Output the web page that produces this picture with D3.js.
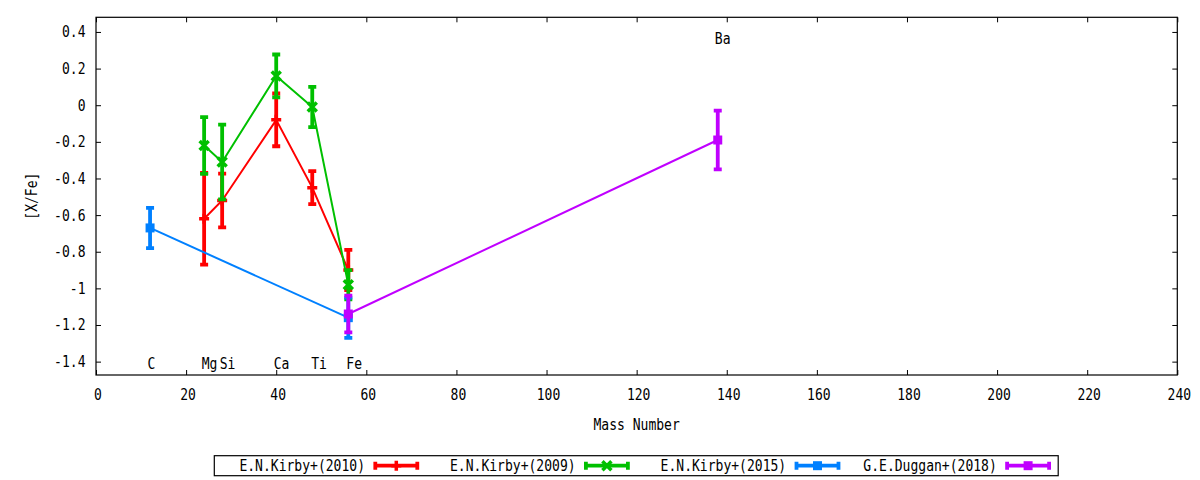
<!DOCTYPE html>
<html>
<head>
<meta charset="utf-8">
<script src="https://cdn.jsdelivr.net/npm/d3@7"></script>
<style>
  body { margin: 0; background: #fff; }
  text { font-family: "DejaVu Sans Mono", monospace; font-size: 15.5px; fill: #000; }
</style>
</head>
<body>
<svg class="chart"></svg>
<script>
// DATA /////////////////////////////////////////
const seriesNames = ["E.N.Kirby+(2010)", "E.N.Kirby+(2009)", "E.N.Kirby+(2015)", "G.E.Duggan+(2018)"];

const kirby2010Mass = [24, 28, 40, 48, 56];
const kirby2010Value = [-0.62, -0.52, -0.08, -0.45, -0.9];
const kirby2010Error = [0.25, 0.147, 0.144, 0.09, 0.11];

const kirby2009Mass = [24, 28, 40, 48, 56];
const kirby2009Value = [-0.22, -0.31, 0.16, -0.01, -0.98];
const kirby2009Error = [0.155, 0.204, 0.117, 0.11, 0.08];

const kirby2015Mass = [12, 56];
const kirby2015Value = [-0.67, -1.16];
const kirby2015Error = [0.11, 0.11];

const duggan2018Mass = [56, 138];
const duggan2018Value = [-1.14, -0.19];
const duggan2018Error = [0.1, 0.16];

// element labels (placed in data coordinates, like gnuplot "set label")
const elementNames = ["C", "Mg", "Si", "Ca", "Ti", "Fe", "Ba"];
const elementLabelX = [12.3, 25.2, 29.2, 41.2, 49.5, 57.3, 139.1];
const elementLabelY = [-1.41, -1.41, -1.41, -1.41, -1.41, -1.41, 0.366];

const xTicks = [0, 20, 40, 60, 80, 100, 120, 140, 160, 180, 200, 220, 240];
const yTicks = [-1.4, -1.2, -1, -0.8, -0.6, -0.4, -0.2, 0, 0.2, 0.4];

// DEFINITIONS //////////////////////////////////
const W = 1200;
const H = 480;
const margin = { top: 17.3, bottom: 105, right: 22.7, left: 96 };
const width = W - margin.left - margin.right;
const height = H - margin.top - margin.bottom;
const charW = 7.85; // narrow monospace look of the original

const colors = ["#ff0000", "#00c000", "#0080ff", "#c000ff"];
const markers = ["plus", "cross", "square", "square"];

const series = [
  { mass: kirby2010Mass, value: kirby2010Value, error: kirby2010Error },
  { mass: kirby2009Mass, value: kirby2009Value, error: kirby2009Error },
  { mass: kirby2015Mass, value: kirby2015Value, error: kirby2015Error },
  { mass: duggan2018Mass, value: duggan2018Value, error: duggan2018Error },
].map((s, i) => ({
  name: seriesNames[i],
  color: colors[i],
  marker: markers[i],
  points: s.mass.map((m, j) => ({ x: m, y: s.value[j], e: s.error[j] })),
}));

const svg = d3.select(".chart").attr("width", W).attr("height", H);

const chart = svg
  .append("g")
  .attr("transform", `translate(${margin.left}, ${margin.top})`);

const x = d3.scaleLinear().domain([0, 240]).range([0, width]);
const y = d3.scaleLinear().domain([-1.473, 0.48]).range([height, 0]);

const squeeze = (sel) =>
  sel
    .attr("textLength", function () {
      return this.textContent.length * charW;
    })
    .attr("lengthAdjust", "spacingAndGlyphs");

// AXES /////////////////////////////////////////
const fmt = (v) => (Math.round(v * 10) / 10).toString();

const styleAxis = (g) => {
  g.select(".domain").remove();
  g.selectAll(".tick line").attr("stroke", "#000").attr("stroke-width", 1);
  g.selectAll(".tick text").attr("fill", "#000").attr("font-size", null).attr("font-family", null);
};

chart
  .append("g")
  .attr("transform", `translate(0, ${height})`)
  .call(d3.axisBottom(x).tickValues(xTicks).tickFormat(fmt).tickSize(-5).tickPadding(14))
  .call(styleAxis)
  .selectAll("text")
  .attr("dx", 1.5)
  .call(squeeze);

chart
  .append("g")
  .call(d3.axisTop(x).tickValues(xTicks).tickFormat("").tickSize(-5))
  .call(styleAxis);

chart
  .append("g")
  .call(d3.axisLeft(y).tickValues(yTicks).tickFormat(fmt).tickSize(-5).tickPadding(10.5))
  .call(styleAxis)
  .selectAll("text")
  .call(squeeze);

chart
  .append("g")
  .attr("transform", `translate(${width}, 0)`)
  .call(d3.axisRight(y).tickValues(yTicks).tickFormat("").tickSize(-5))
  .call(styleAxis);

chart
  .append("rect")
  .attr("x", 0)
  .attr("y", 0)
  .attr("width", width)
  .attr("height", height)
  .attr("fill", "none")
  .attr("stroke", "#000")
  .attr("stroke-width", 1.2);

// axis titles
svg
  .append("text")
  .attr("x", margin.left + width / 2)
  .attr("y", 429.5)
  .attr("text-anchor", "middle")
  .text("Mass Number")
  .call(squeeze);

svg
  .append("text")
  .attr("transform", `translate(31.7, ${margin.top + height / 2}) rotate(-90)`)
  .attr("text-anchor", "middle")
  .attr("dy", "0.35em")
  .text("[X/Fe]")
  .call(squeeze);

// ELEMENT LABELS ///////////////////////////////
chart
  .selectAll(".element")
  .data(elementNames)
  .enter()
  .append("text")
  .attr("class", "element")
  .attr("x", (d, i) => x(elementLabelX[i]))
  .attr("y", (d, i) => y(elementLabelY[i]))
  .attr("dy", "0.35em")
  .attr("text-anchor", "middle")
  .text((d) => d)
  .call(squeeze);

// MARKERS //////////////////////////////////////
const drawMarker = (g, type, cx, cy, color) => {
  if (type === "plus") {
    g.append("path")
      .attr("d", `M${cx - 5},${cy}H${cx + 5}M${cx},${cy - 5}V${cy + 5}`)
      .attr("stroke", color)
      .attr("stroke-width", 3.5)
      .attr("fill", "none");
  } else if (type === "cross") {
    g.append("path")
      .attr("d", `M${cx - 4.5},${cy - 4.5}L${cx + 4.5},${cy + 4.5}M${cx - 4.5},${cy + 4.5}L${cx + 4.5},${cy - 4.5}`)
      .attr("stroke", color)
      .attr("stroke-width", 3.5)
      .attr("fill", "none");
  } else {
    g.append("rect")
      .attr("x", cx - 4.5)
      .attr("y", cy - 4.5)
      .attr("width", 9)
      .attr("height", 9)
      .attr("fill", color);
  }
};

// SERIES ///////////////////////////////////////
const line = d3
  .line()
  .x((d) => x(d.x))
  .y((d) => y(d.y));

series.forEach((s) => {
  const g = chart.append("g").attr("class", "series");

  g.append("path")
    .attr("d", line(s.points))
    .attr("fill", "none")
    .attr("stroke", s.color)
    .attr("stroke-width", 2);

  s.points.forEach((p) => {
    const cx = x(p.x);
    const top = y(p.y + p.e);
    const bottom = y(p.y - p.e);
    g.append("path")
      .attr("d", `M${cx},${top}V${bottom}M${cx - 4},${top}H${cx + 4}M${cx - 4},${bottom}H${cx + 4}`)
      .attr("stroke", s.color)
      .attr("stroke-width", 3.8)
      .attr("fill", "none");
    drawMarker(g, s.marker, cx, y(p.y), s.color);
  });
});

// LEGEND ///////////////////////////////////////
const legendLeft = 214.3;
const legendTop = 455.7;
const entryW = 210.6;
const legendY = 465.7;

const legend = svg.append("g").attr("class", "legend");

legend
  .append("rect")
  .attr("x", legendLeft)
  .attr("y", legendTop)
  .attr("width", entryW * series.length + 1.5)
  .attr("height", 20)
  .attr("fill", "#fff")
  .attr("stroke", "#000")
  .attr("stroke-width", 1.2);

series.forEach((s, i) => {
  const x0 = legendLeft + i * entryW;
  legend
    .append("text")
    .attr("x", x0 + 150.7)
    .attr("y", 470.5)
    .attr("text-anchor", "end")
    .text(s.name)
    .call(squeeze);

  const a = x0 + 161;
  const b = x0 + 203;
  legend
    .append("path")
    .attr("d", `M${a},${legendY}H${b}M${a},${legendY - 4}V${legendY + 4}M${b},${legendY - 4}V${legendY + 4}`)
    .attr("stroke", s.color)
    .attr("stroke-width", 3.8)
    .attr("fill", "none");
  drawMarker(legend, s.marker, (a + b) / 2, legendY, s.color);
});
</script>
</body>
</html>
